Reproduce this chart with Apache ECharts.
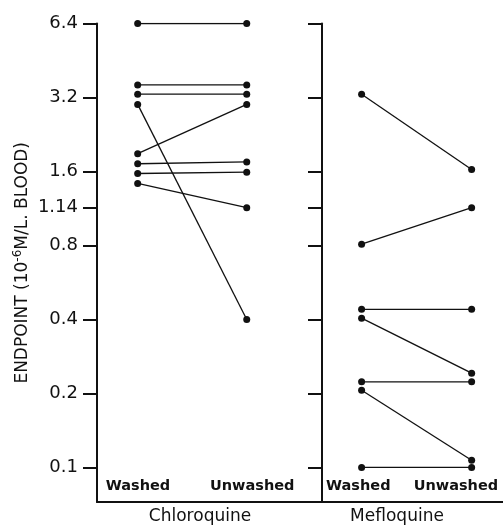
<!DOCTYPE html>
<html>
<head>
<meta charset="utf-8">
<script src="https://cdn.jsdelivr.net/npm/echarts@6/dist/echarts.min.js"></script>
<style>
  html, body { margin: 0; padding: 0; background: #fff; }
  #chart { width: 503px; height: 530px; }
</style>
</head>
<body>
<div id="chart"></div>
<script>
// tick labels and categories
var yTicks = [0.1, 0.2, 0.4, 0.8, 1.14, 1.6, 3.2, 6.4];
var conditions = ['Washed', 'Unwashed'];
var drugs = ['Chloroquine', 'Mefloquine'];

// endpoints (10^-6 M/L blood), paired washed -> unwashed
var chloroWashed   = [6.4, 3.6, 3.3, 3.0, 1.89, 1.72, 1.57, 1.43];
var chloroUnwashed = [6.4, 3.6, 3.3, 0.4, 3.0, 1.75, 1.59, 1.14];
var mefloWashed    = [3.3, 0.81, 0.44, 0.405, 0.223, 0.206, 0.1];
var mefloUnwashed  = [1.63, 1.14, 0.44, 0.242, 0.223, 0.107, 0.1];

var ink = '#111';
var font = 'DejaVu Sans';

function pairSeries(washed, unwashed, idx) {
  return washed.map(function (w, i) {
    return {
      type: 'line',
      xAxisIndex: idx,
      yAxisIndex: idx,
      data: [[0, w], [1, unwashed[i]]],
      symbol: 'circle',
      symbolSize: 7,
      lineStyle: { color: ink, width: 1.3 },
      itemStyle: { color: ink },
      silent: true
    };
  });
}

function xAxisFor(idx, min, max, labelAt, namePad) {
  return {
    gridIndex: idx,
    type: 'value',
    min: min,
    max: max,
    axisLine: { show: true, onZero: false, lineStyle: { color: ink, width: 2 } },
    axisTick: { show: false },
    splitLine: { show: false },
    axisLabel: {
      inside: true,
      customValues: labelAt,
      margin: 8,
      color: ink,
      fontFamily: font,
      fontWeight: 'bold',
      fontSize: 14.5,
      formatter: function (v) { return v < 0.5 ? conditions[0] : conditions[1]; }
    },
    name: drugs[idx],
    nameLocation: 'middle',
    nameGap: 5,
    nameTextStyle: { color: ink, fontFamily: font, fontSize: 17, padding: [0, namePad, 0, 0] }
  };
}

function yAxisFor(idx, showLabels) {
  return {
    gridIndex: idx,
    type: 'log',
    logBase: 2,
    min: 0.0723,
    max: 6.4,
    axisLine: { show: true, onZero: false, lineStyle: { color: ink, width: 2 } },
    axisTick: { show: true, customValues: yTicks, length: 14, lineStyle: { color: ink, width: 2 } },
    splitLine: { show: false },
    axisLabel: {
      show: showLabels,
      customValues: yTicks,
      margin: 19,
      color: ink,
      fontFamily: font,
      fontSize: 18
    },
    name: showLabels ? '{a|ENDPOINT (10}{s|-6}{a|M/L. BLOOD)}' : '',
    nameLocation: 'middle',
    nameRotate: 90,
    nameGap: 62,
    nameTextStyle: {
      rich: {
        a: { color: ink, fontFamily: font, fontSize: 17, lineHeight: 22 },
        s: { color: ink, fontFamily: font, fontSize: 12, lineHeight: 22, padding: [0, 0, 10, 0] }
      }
    }
  };
}

var chart = echarts.init(document.getElementById('chart'));
chart.setOption({
  animation: false,
  backgroundColor: '#fff',
  grid: [
    { left: 97, top: 23.5, width: 225, bottom: 23 },
    { left: 322, top: 23.5, right: 0, bottom: 23 }
  ],
  xAxis: [
    xAxisFor(0, -0.373, 1.69, [0.003, 1.05], 19),
    xAxisFor(1, -0.36, 1.285, [-0.03, 0.857], 31)
  ],
  yAxis: [yAxisFor(0, true), yAxisFor(1, false)],
  series: pairSeries(chloroWashed, chloroUnwashed, 0)
    .concat(pairSeries(mefloWashed, mefloUnwashed, 1))
});
</script>
</body>
</html>
